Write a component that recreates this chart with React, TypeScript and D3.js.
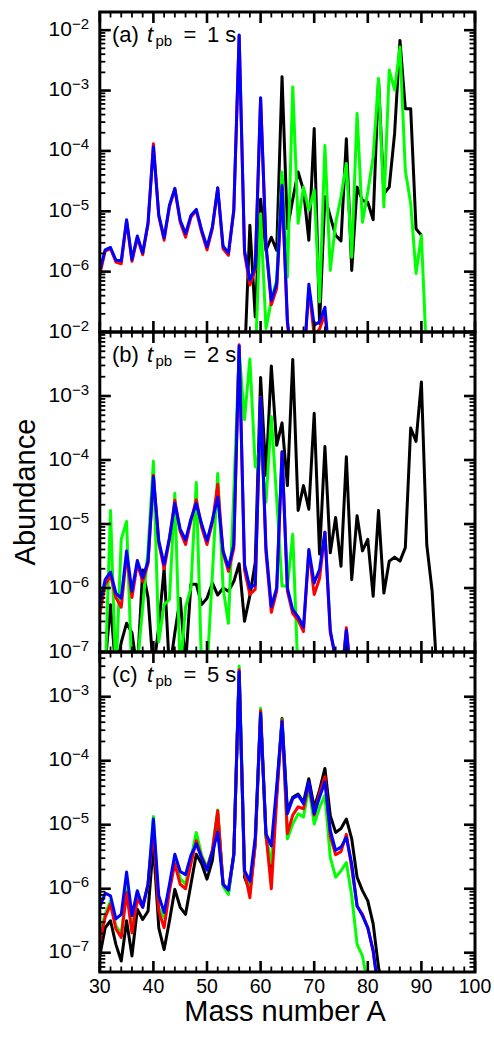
import React from "react";
import * as d3 from "d3";

// Abundances are given as log10(Y) per mass number A, each series starting at its own A.

// ---- t_pb = 1 s ----
const black1sStart = 57;
const black1s = [-7.5, -5.23, -6.75, -4.8, -5.65, -5.43, -5.65, -2.77, -5.29, -4.8, -4.35, -4.65, -5.48, -3.63, -6.86, -4.76, -5.09, -5.4, -5.49, -3.8, -5.98, -4.6, -4.82, -4.85, -5.14, -2.83, -4.71, -4.6, -3.71, -2.17, -3.3, -3.3, -5.29, -5.4];
const green1sStart = 59;
const green1s = [-7.5, -5.04, -6.94, -6.48, -6.14, -4.35, -6.09, -2.94, -5.2, -4.6, -4.98, -4.65, -6.5, -3.91, -5.98, -5.2, -4.76, -4.21, -5.76, -3.38, -5.18, -4.68, -4.1, -2.8, -4.93, -2.66, -2.99, -2.28, -4.32, -4.87, -6.03, -5.4, -7.5];
const red1sStart = 30;
const red1s = [-6.05, -5.66, -5.62, -5.84, -5.87, -5.16, -5.83, -5.44, -5.72, -5.21, -3.88, -5.08, -5.48, -4.92, -4.63, -5.18, -5.43, -5.1, -4.99, -5.35, -5.64, -5.29, -4.62, -5.62, -5.73, -4.99, -2.09, -5.7, -6.22, -5.97, -3.13, -5.58, -6.55, -6.28, -4.62, -6.86, -7.6, -7.8, -7.6, -6.28, -7.05, -6.95, -6.7, -7.6];
const blue1sStart = 30;
const blue1s = [-5.98, -5.64, -5.6, -5.81, -5.82, -5.14, -5.8, -5.41, -5.69, -5.19, -3.93, -5.06, -5.44, -4.9, -4.62, -5.15, -5.37, -5.07, -4.97, -5.31, -5.59, -5.26, -4.61, -5.58, -5.69, -4.98, -2.08, -5.65, -6.14, -5.92, -3.12, -5.54, -6.48, -6.2, -4.57, -6.81, -7.6, -7.8, -7.6, -6.21, -6.89, -6.83, -6.59, -7.6];

// ---- t_pb = 2 s ----
const black2sStart = 30;
const black2s = [-7.3, -7.2, -6.26, -7.3, -6.85, -6.55, -6.7, -7.3, -5.72, -6.15, -7.3, -6.6, -5.69, -7.3, -6.7, -6.16, -7.2, -5.94, -5.94, -6.26, -6.16, -5.92, -6.11, -6.0, -6.05, -5.9, -5.62, -6.52, -6.12, -5.6, -2.71, -4.24, -2.53, -3.77, -3.42, -4.4, -2.43, -4.79, -4.4, -4.77, -3.27, -5.47, -3.79, -5.45, -4.9, -5.66, -3.95, -5.87, -4.87, -5.42, -5.24, -6.13, -4.79, -6.08, -5.58, -5.52, -5.58, -5.37, -3.5, -3.71, -2.78, -5.32, -6.05, -7.5];
const green2sStart = 30;
const green2s = [-7.4, -7.4, -4.79, -7.4, -5.24, -4.96, -7.4, -7.2, -6.3, -5.4, -4.02, -6.84, -6.26, -6.18, -4.52, -7.3, -6.3, -6.0, -4.35, -7.3, -7.3, -5.8, -4.21, -6.0, -6.55, -4.5, -2.3, -3.37, -2.42, -4.11, -3.8, -4.66, -3.32, -4.6, -5.97, -5.97, -5.16, -7.4];
const red2sStart = 30;
const red2s = [-6.4, -5.95, -5.8, -6.15, -6.3, -5.48, -6.15, -5.62, -5.9, -5.62, -4.24, -5.3, -5.7, -5.24, -4.63, -5.12, -5.32, -4.95, -4.62, -5.05, -5.32, -4.98, -4.38, -5.45, -5.74, -5.38, -2.2, -5.72, -6.1, -6.02, -3.02, -5.45, -6.38, -6.05, -3.88, -6.05, -6.4, -6.5, -6.68, -5.42, -6.1, -5.85, -5.13, -6.7, -7.1, -7.5, -6.62, -7.5];
const blue2sStart = 30;
const blue2s = [-6.26, -5.87, -5.75, -6.08, -6.16, -5.42, -6.05, -5.57, -5.84, -5.58, -4.26, -5.26, -5.63, -5.21, -4.68, -5.08, -5.25, -4.92, -4.68, -5.0, -5.26, -4.94, -4.58, -5.42, -5.68, -5.32, -2.22, -5.63, -6.0, -5.95, -3.03, -5.37, -6.29, -6.0, -3.87, -6.0, -6.34, -6.45, -6.61, -5.4, -5.92, -5.71, -5.13, -6.66, -7.1, -7.5, -6.66, -7.5];

// ---- t_pb = 5 s ----
const black5sStart = 30;
const black5s = [-7.05, -6.61, -6.5, -6.87, -7.13, -6.5, -7.05, -6.32, -6.48, -6.35, -5.3, -6.61, -6.95, -6.5, -6.01, -6.29, -6.4, -5.93, -5.46, -5.61, -5.85, -5.56, -4.83, -5.93, -6.06, -5.48, -2.61, -5.82, -6.03, -5.3, -3.29, -5.17, -5.74, -4.5, -3.34, -4.78, -4.57, -4.52, -4.65, -4.28, -4.73, -4.46, -4.12, -4.86, -5.12, -5.06, -4.91, -5.22, -5.82, -6.03, -6.19, -6.55, -7.23, -7.6];
const green5sStart = 30;
const green5s = [-6.71, -6.4, -6.19, -6.58, -6.71, -5.98, -6.62, -6.13, -6.26, -5.93, -4.87, -6.3, -6.45, -5.98, -5.53, -5.84, -5.93, -5.53, -5.12, -5.48, -5.66, -5.4, -4.77, -5.96, -6.09, -5.46, -2.52, -5.75, -6.05, -5.3, -3.18, -5.2, -5.6, -4.5, -3.36, -5.22, -4.99, -4.83, -4.88, -4.41, -4.99, -4.73, -4.54, -5.51, -5.82, -5.72, -5.59, -6.11, -6.87, -7.05, -7.5];
const red5sStart = 30;
const red5s = [-6.82, -6.45, -6.24, -6.63, -6.76, -6.06, -6.69, -6.16, -6.29, -5.93, -5.04, -6.35, -6.61, -6.03, -5.61, -5.93, -6.0, -5.61, -5.25, -5.51, -5.69, -5.4, -4.78, -5.93, -6.02, -5.46, -2.58, -5.72, -6.14, -5.3, -3.22, -5.14, -6.0, -4.6, -3.37, -5.14, -4.85, -4.72, -4.75, -4.36, -4.85, -4.51, -4.25, -5.18, -5.47, -5.42, -5.15, -5.68, -6.27, -6.4, -6.61, -6.97, -7.6];
const blue5sStart = 30;
const blue5s = [-6.29, -6.07, -6.11, -6.47, -6.4, -5.74, -6.42, -6.03, -6.29, -5.93, -4.91, -6.11, -6.37, -5.93, -5.46, -5.73, -5.78, -5.48, -5.3, -5.52, -5.71, -5.43, -5.12, -5.93, -6.02, -5.46, -2.61, -5.72, -5.88, -5.2, -3.26, -5.14, -5.33, -4.4, -3.39, -4.83, -4.59, -4.54, -4.67, -4.33, -4.83, -4.57, -4.33, -5.09, -5.4, -5.35, -5.2, -5.61, -6.27, -6.42, -6.61, -6.97, -7.6];

const panelLabels = ["(a)", "(b)", "(c)"];
const panelTimes = ["1", "2", "5"];
const xTickValues = [30, 40, 50, 60, 70, 80, 90, 100];
const yLabelExponents = [
  [-2, -3, -4, -5, -6],
  [-2, -3, -4, -5, -6, -7],
  [-3, -4, -5, -6, -7],
];
const yDomains: [number, number][] = [
  [1e-7, 2e-2],
  [1e-7, 1e-2],
  [5e-8, 5e-3],
];

const seriesColors = { black: "#000000", green: "#00ff00", red: "#ff0000", blue: "#0000ff" };

type Series = { color: string; start: number; logs: number[] };
const panelSeries: Series[][] = [
  [
    { color: seriesColors.black, start: black1sStart, logs: black1s },
    { color: seriesColors.green, start: green1sStart, logs: green1s },
    { color: seriesColors.red, start: red1sStart, logs: red1s },
    { color: seriesColors.blue, start: blue1sStart, logs: blue1s },
  ],
  [
    { color: seriesColors.black, start: black2sStart, logs: black2s },
    { color: seriesColors.green, start: green2sStart, logs: green2s },
    { color: seriesColors.red, start: red2sStart, logs: red2s },
    { color: seriesColors.blue, start: blue2sStart, logs: blue2s },
  ],
  [
    { color: seriesColors.black, start: black5sStart, logs: black5s },
    { color: seriesColors.green, start: green5sStart, logs: green5s },
    { color: seriesColors.red, start: red5sStart, logs: red5s },
    { color: seriesColors.blue, start: blue5sStart, logs: blue5s },
  ],
];

const FONT = "'Liberation Sans', Arial, Helvetica, sans-serif";
const W = 494;
const H = 1050;
const LEFT = 99.8;
const RIGHT = 475;
const TOP = 12;
const PANEL_H = 320;
const MAJOR = 11;
const MINOR = 5.5;

function logMinorTicks(domain: [number, number]): { v: number; major: boolean }[] {
  const out: { v: number; major: boolean }[] = [];
  const lo = Math.floor(Math.log10(domain[0]));
  const hi = Math.ceil(Math.log10(domain[1]));
  for (let e = lo; e <= hi; e++) {
    for (let m = 1; m <= 9; m++) {
      const v = m * Math.pow(10, e);
      if (v >= domain[0] * 0.999 && v <= domain[1] * 1.001) out.push({ v, major: m === 1 });
    }
  }
  return out;
}

function Panel({ index }: { index: number }) {
  const top = TOP + index * PANEL_H;
  const bottom = top + PANEL_H;
  const x = d3.scaleLinear().domain([30, 100]).range([LEFT, RIGHT]);
  const y = d3.scaleLog().domain(yDomains[index]).range([bottom, top]);
  const line = d3
    .line<{ a: number; v: number }>()
    .x((d) => x(d.a))
    .y((d) => y(d.v));
  const clipId = `clip-${index}`;
  const xMinor = d3.range(30, 101, 2);
  const yTicks = logMinorTicks(yDomains[index]);

  return (
    <g>
      <defs>
        <clipPath id={clipId}>
          <rect x={LEFT} y={top} width={RIGHT - LEFT} height={PANEL_H} />
        </clipPath>
      </defs>
      <g clipPath={`url(#${clipId})`}>
        {panelSeries[index].map((s, k) => {
          const pts = s.logs.map((l, i) => ({ a: s.start + i, v: Math.pow(10, l) }));
          return (
            <path
              key={k}
              d={line(pts) || ""}
              fill="none"
              stroke={s.color}
              strokeWidth={3}
              strokeLinejoin="round"
            />
          );
        })}
      </g>
      {/* x ticks, inward on top and bottom */}
      {xMinor.map((t) => {
        const major = t % 10 === 0;
        const len = major ? MAJOR : MINOR;
        const sw = major ? 2.6 : 1.8;
        return (
          <g key={`x${t}`} stroke="#000" strokeWidth={sw}>
            <line x1={x(t)} x2={x(t)} y1={bottom} y2={bottom - len} />
            <line x1={x(t)} x2={x(t)} y1={top} y2={top + len} />
          </g>
        );
      })}
      {/* y ticks, inward on left and right */}
      {yTicks.map((t, i) => {
        const len = t.major ? MAJOR : MINOR;
        const sw = t.major ? 2.6 : 1.8;
        const yy = y(t.v);
        return (
          <g key={`y${i}`} stroke="#000" strokeWidth={sw}>
            <line x1={LEFT} x2={LEFT + len} y1={yy} y2={yy} />
            <line x1={RIGHT} x2={RIGHT - len} y1={yy} y2={yy} />
          </g>
        );
      })}
      <rect x={LEFT} y={top} width={RIGHT - LEFT} height={PANEL_H} fill="none" stroke="#000" strokeWidth={3} />
      {/* y tick labels */}
      {yLabelExponents[index].map((e) => {
        const yy = y(Math.pow(10, e));
        return (
          <text key={`yl${e}`} x={89} y={yy + 5.5} textAnchor="end" fontFamily={FONT} fontSize={21} fill="#000">
            <tspan>10</tspan>
            <tspan dy={-7} fontSize={15}>{`\u2212${Math.abs(e)}`}</tspan>
          </text>
        );
      })}
      {/* panel label */}
      <g fontFamily={FONT} fill="#000">
        <text x={112} y={top + 30} fontSize={22}>{panelLabels[index]}</text>
        <text x={147} y={top + 30} fontSize={22} fontStyle="italic">t</text>
        <text x={155.5} y={top + 34} fontSize={15}>pb</text>
        <text x={190} y={top + 30} fontSize={22} textAnchor="middle">=</text>
        <text x={207} y={top + 30} fontSize={22}>{`${panelTimes[index]} s`}</text>
      </g>
      {index === 2 &&
        xTickValues.map((t) => (
          <text key={`xl${t}`} x={x(t)} y={bottom + 21} textAnchor="middle" fontFamily={FONT} fontSize={19.5} fill="#000">
            {t}
          </text>
        ))}
    </g>
  );
}

export default function App() {
  return (
    <svg
      width={W}
      height={H}
      viewBox={`0 0 ${W} ${H}`}
      style={{ position: "absolute", left: 0, top: 0, background: "#fff" }}
    >
      <rect x={0} y={0} width={W} height={H} fill="#fff" />
      {[0, 1, 2].map((i) => (
        <Panel key={i} index={i} />
      ))}
      <text
        transform={`translate(35, 492) rotate(-90)`}
        textAnchor="middle"
        fontFamily={FONT}
        fontSize={29}
        fill="#000"
      >
        Abundance
      </text>
      <text x={285} y={1021} textAnchor="middle" fontFamily={FONT} fontSize={29} fill="#000">
        Mass number A
      </text>
    </svg>
  );
}
